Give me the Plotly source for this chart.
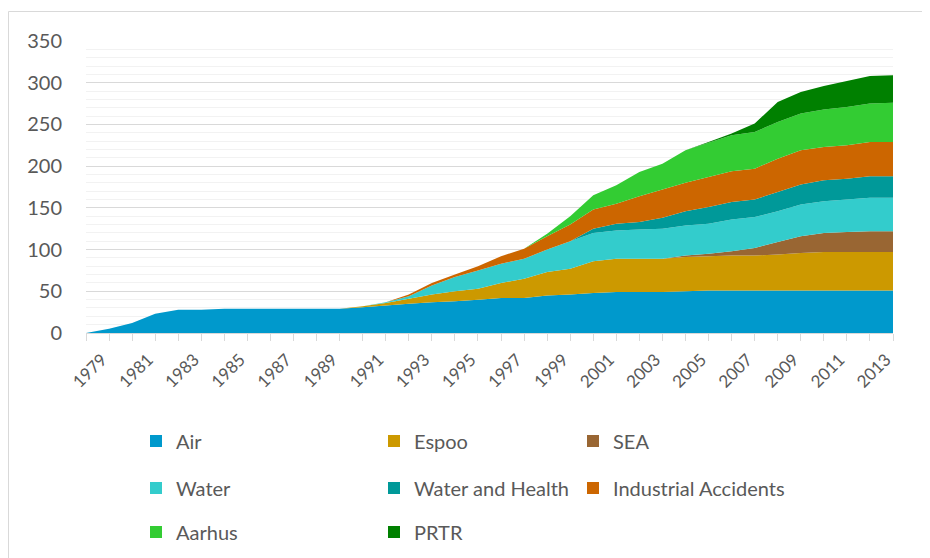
import plotly.graph_objects as go

years = list(range(1979, 2015))

air = [0, 5, 12, 23, 28, 28, 29, 29, 29, 29, 29, 29,
       31, 33, 35, 37, 38, 40, 42, 42, 45, 46,
       48, 49, 49, 49, 50, 51, 51, 51, 51, 51,
       51, 51, 51, 51]
espoo = [0] * 12 + [1, 3, 6, 9, 12, 13, 18, 23, 28, 31,
                    38, 40, 40, 40, 41, 41, 42, 42, 43, 45,
                    46, 46, 46, 46]
sea = [0] * 26 + [2, 3, 5, 9, 15, 20, 23, 24, 25, 25]
water = [0] * 13 + [1, 3, 11, 17, 22, 23, 24, 27, 33,
                    34, 34, 35, 36, 36, 36, 38, 37, 37, 38,
                    38, 39, 40, 40]
water_health = [0] * 22 + [5, 8, 9, 13, 17, 20, 21, 21, 23, 24, 25, 25, 26, 26]
industrial = [0] * 14 + [2, 3, 3, 5, 9, 12, 16, 20,
                         23, 24, 31, 34, 34, 36, 37, 37, 40, 41,
                         40, 40, 41, 41]
aarhus = [0] * 20 + [3, 10, 17, 22, 29, 31, 39, 41, 43, 44, 44, 44, 45, 46, 46, 47]
prtr = [0] * 27 + [1, 2, 10, 24, 26, 28, 31, 33, 33]

names = ["Air", "Espoo", "SEA", "Water", "Water and Health",
         "Industrial Accidents", "Aarhus", "PRTR"]
values = [air, espoo, sea, water, water_health, industrial, aarhus, prtr]
colors = ["#0099CC", "#CC9900", "#996633", "#33CCCC", "#009999",
          "#CC6600", "#33CC33", "#008000"]
legend_rows = ["legend", "legend", "legend", "legend2", "legend2", "legend2",
               "legend3", "legend3"]
legend_cols = [0, 1, 2, 0, 1, 2, 0, 1]
col_widths = [193, 154, 230]

fig = go.Figure()
for name, vals, col in zip(names, values, colors):
    fig.add_trace(go.Scatter(
        x=years, y=vals, name=name, mode="none", stackgroup="one",
        fillcolor=col, line=dict(width=0), showlegend=False,
    ))
for name, col, lg, c in zip(names, colors, legend_rows, legend_cols):
    fig.add_trace(go.Scatter(
        x=[None], y=[None], name=name, mode="markers",
        marker=dict(symbol="square", size=12, color=col),
        legend=lg, showlegend=True, legendwidth=col_widths[c],
    ))

# page body has an 8px margin: figure coords = screen coords - 8
OFF = 8
W, H = 930, 558
L, T = 86 - OFF, 41 - OFF
R = W - (893 - OFF)
B = H - (333 - OFF)
pw, ph = W - L - R, H - T - B


def px_x(p):
    return (p - OFF - L) / pw


def px_y(p):
    return (H - B - (p - OFF)) / ph


font_family = "Lato"
txt_col = "#595959"


def legend_cfg(y_px):
    return dict(
        orientation="h", xref="paper", yref="paper", traceorder="normal",
        x=px_x(136), xanchor="left", y=px_y(y_px), yanchor="middle",
        entrywidthmode="pixels",
        font=dict(family=font_family, size=20, color=txt_col),
        bgcolor="rgba(0,0,0,0)", borderwidth=0,
        itemclick=False, itemdoubleclick=False,
    )


fig.update_layout(
    width=W, height=H,
    margin=dict(l=L, r=R, t=T, b=B, autoexpand=False),
    paper_bgcolor="white", plot_bgcolor="white",
    font=dict(family=font_family, color=txt_col),
    legend=legend_cfg(441),
    legend2=legend_cfg(488),
    legend3=legend_cfg(532),
    xaxis=dict(
        type="linear", range=[1979, 2014],
        tickmode="linear", tick0=1979, dtick=2,
        tickangle=-45, ticklabelshift=16, ticklabelstandoff=2,
        ticks="outside", ticklen=7, tickcolor="#D9D9D9", tickwidth=1,
        minor=dict(dtick=1, ticks="outside", ticklen=7, tickcolor="#D9D9D9", tickwidth=1),
        showline=True, linecolor="#D9D9D9", linewidth=1,
        showgrid=False, zeroline=False,
        tickfont=dict(family=font_family, size=17, color=txt_col),
    ),
    yaxis=dict(
        range=[0, 350], tickmode="linear", tick0=0, dtick=50,
        showgrid=True, gridcolor="#D9D9D9", gridwidth=1,
        minor=dict(dtick=10, showgrid=True, gridcolor="#F2F2F2", gridwidth=1),
        zeroline=False, showline=False,
        ticklabelstandoff=23,
        tickfont=dict(family=font_family, size=20, color=txt_col),
    ),
    shapes=[dict(
        type="rect", xref="paper", yref="paper",
        x0=px_x(8.5), x1=px_x(940), y0=px_y(570), y1=px_y(11.5),
        line=dict(color="#D9D9D9", width=1), fillcolor="rgba(0,0,0,0)",
        layer="below",
    )],
    showlegend=True,
)

fig.write_html("out.html")
